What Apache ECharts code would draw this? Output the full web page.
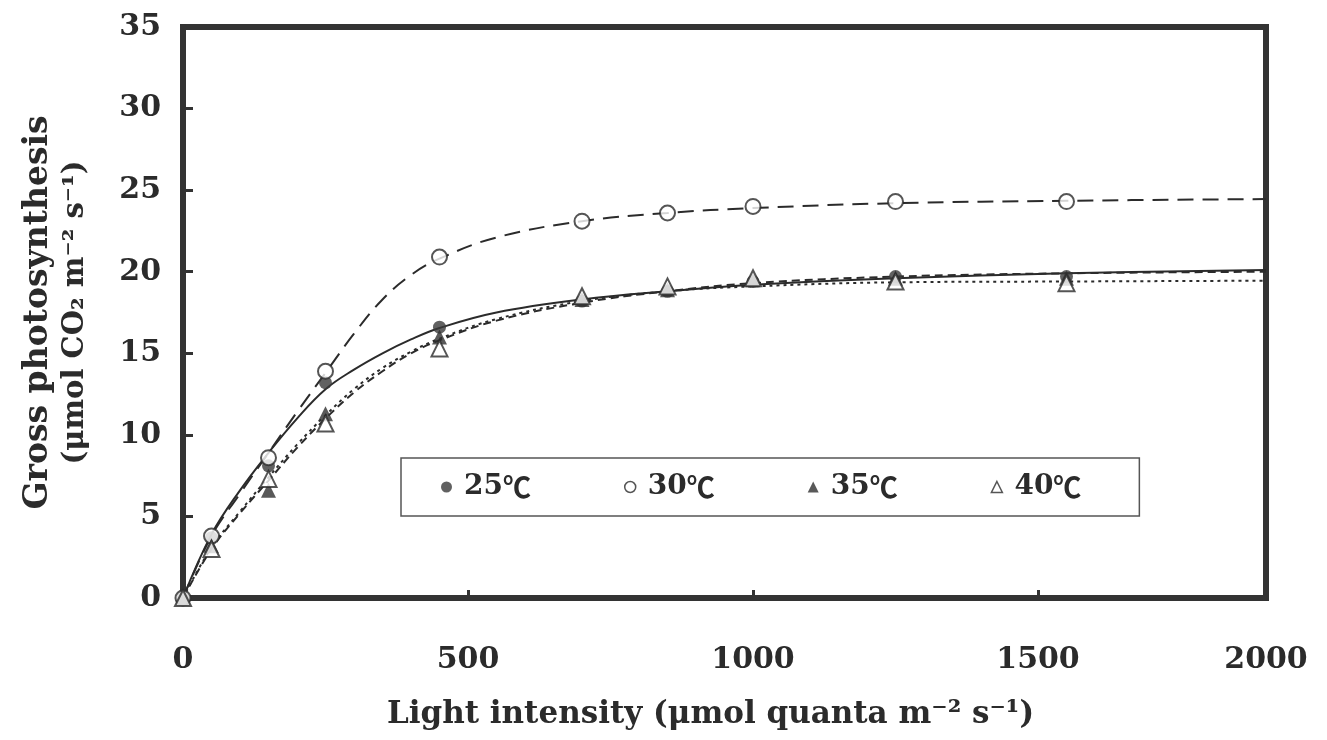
<!DOCTYPE html>
<html>
<head>
<meta charset="utf-8">
<script src="https://cdn.jsdelivr.net/npm/echarts@6/dist/echarts.min.js"></script>
<style>
  html, body { margin: 0; padding: 0; background: #fff; }
  #main { width: 1327px; height: 740px; }
</style>
</head>
<body>
<div id="main"></div>
<script>
// measured points (light intensity vs gross photosynthesis)
var lightX = [0, 50, 150, 250, 450, 700, 850, 1000, 1250, 1550];
var gp25 = [0, 3.7, 8.1, 13.2, 16.6, 18.2, 18.8, 19.4, 19.7, 19.7];
var gp30 = [0, 3.8, 8.6, 13.9, 20.9, 23.1, 23.6, 24.0, 24.3, 24.3];
var gp35 = [0, 3.2, 6.6, 11.3, 16.0, 18.3, 18.9, 19.5, 19.6, 19.6];
var gp40 = [0, 3.0, 7.3, 10.7, 15.3, 18.5, 19.1, 19.6, 19.4, 19.3];

// fitted curves
var fitX = [0, 50, 100, 150, 200, 250, 300, 350, 400, 450, 550, 700, 850, 1000, 1250, 1550, 1900];
var fit25 = [0, 3.9, 6.6, 8.9, 11.0, 12.8, 14.0, 15.0, 15.85, 16.55, 17.5, 18.3, 18.8, 19.2, 19.6, 19.9, 20.1];
var fit30 = [0, 3.8, 6.4, 8.9, 11.4, 13.8, 16.2, 18.3, 19.8, 20.8, 22.1, 23.1, 23.6, 23.9, 24.2, 24.35, 24.45];
var fit35 = [0, 3.0, 5.2, 7.2, 9.2, 11.0, 12.6, 13.9, 15.0, 15.8, 17.0, 18.1, 18.8, 19.3, 19.7, 19.9, 20.0];
var fit40 = [0, 3.1, 5.3, 7.4, 9.4, 11.2, 12.8, 14.1, 15.1, 15.9, 17.1, 18.2, 18.8, 19.1, 19.35, 19.4, 19.45];

var legendNames = ['25℃', '30℃', '35℃', '40℃'];
var xMax = 1900;
var xTickLabels = ['0', '500', '1000', '1500', '2000'];

function pairs(xs, ys) {
    return xs.map(function (x, i) { return [x, ys[i]]; });
}

var ink = '#2b2b2b';
var font = 'DejaVu Serif';

var dom = document.getElementById('main');
var myChart = echarts.init(dom);

var markStyles = [
    { symbol: 'circle', symbolSize: 13, itemStyle: { color: '#3a3a3a' } },
    { symbol: 'circle', symbolSize: 15, itemStyle: { color: '#fff', borderColor: ink, borderWidth: 2 } },
    { symbol: 'triangle', symbolSize: 15, itemStyle: { color: '#2f2f2f' } },
    { symbol: 'triangle', symbolSize: 16, itemStyle: { color: '#fff', borderColor: ink, borderWidth: 2 } }
];
var pointSets = [gp25, gp30, gp35, gp40];
var fitSets = [fit25, fit30, fit35, fit40];
var lineTypes = ['solid', [16, 9], [8, 5], [3, 4]];

var series = [];
fitSets.forEach(function (ys, i) {
    series.push({
        name: legendNames[i] + ' fit',
        type: 'line',
        smooth: 0.4,
        showSymbol: false,
        silent: true,
        z: 2,
        lineStyle: { color: ink, width: 2, type: lineTypes[i] },
        data: pairs(fitX, ys)
    });
});
pointSets.forEach(function (ys, i) {
    series.push({
        name: legendNames[i],
        type: 'scatter',
        symbol: markStyles[i].symbol,
        symbolSize: markStyles[i].symbolSize,
        itemStyle: markStyles[i].itemStyle,
        z: 5,
        data: pairs(lightX, ys)
    });
});

var option = {
    backgroundColor: '#fff',
    animation: false,
    grid: {
        left: 183, right: 61, top: 27, bottom: 142,
        show: true,
        borderColor: '#333',
        borderWidth: 6,
        backgroundColor: 'transparent'
    },
    legend: {
        data: [
            { name: '25℃', icon: 'circle', itemStyle: { color: '#3a3a3a' } },
            { name: '30℃', icon: 'circle', itemStyle: { color: '#fff', borderColor: ink, borderWidth: 1.5 } },
            { name: '35℃', icon: 'triangle', itemStyle: { color: '#2f2f2f' } },
            { name: '40℃', icon: 'triangle', itemStyle: { color: '#fff', borderColor: ink, borderWidth: 1.5 } }
        ],
        left: 401,
        top: 458,
        orient: 'horizontal',
        itemWidth: 11,
        itemHeight: 11,
        itemGap: 93,
        padding: [15, 58, 15, 40],
        borderColor: '#555',
        borderWidth: 1.5,
        formatter: function (name) {
            return '{n|' + name.replace('℃', '') + '}{c|℃}';
        },
        textStyle: {
            color: ink,
            rich: {
                n: { fontFamily: font, fontWeight: 'bold', fontSize: 28, color: ink, padding: [0, 0, 0, 7] },
                c: { fontFamily: 'Noto Sans CJK JP', fontWeight: 'bold', fontSize: 28, color: ink }
            }
        }
    },
    xAxis: {
        type: 'value',
        min: 0,
        max: xMax,
        interval: 500,
        name: 'Light intensity (μmol quanta m⁻² s⁻¹)',
        nameLocation: 'middle',
        nameGap: 101,
        nameTextStyle: { fontFamily: font, fontWeight: 'bold', fontSize: 31, color: ink, padding: [0, 28, 0, 0] },
        axisLine: { show: true, lineStyle: { color: '#333', width: 6 } },
        axisTick: { show: true, inside: true, length: 8, lineStyle: { color: '#333', width: 3 } },
        splitLine: { show: false },
        axisLabel: {
            margin: 47,
            fontFamily: font, fontWeight: 'bold', fontSize: 30, color: ink,
            formatter: function (v) {
                if (v === xMax) return xTickLabels[xTickLabels.length - 1];
                return xTickLabels[Math.round(v / 500)];
            }
        }
    },
    yAxis: {
        type: 'value',
        min: 0,
        max: 35,
        interval: 5,
        name: '{a|Gross photosynthesis}\n{b|(μmol CO₂ m⁻² s⁻¹)}',
        nameLocation: 'middle',
        nameRotate: 90,
        nameGap: 90,
        nameTextStyle: {
            color: ink,
            rich: {
                a: { fontFamily: font, fontWeight: 'bold', fontSize: 33, color: ink, lineHeight: 38 },
                b: { fontFamily: font, fontWeight: 'bold', fontSize: 29, color: ink, lineHeight: 36 }
            }
        },
        axisLine: { show: true, lineStyle: { color: '#333', width: 6 } },
        axisTick: { show: true, inside: true, length: 10, lineStyle: { color: '#333', width: 3 } },
        splitLine: { show: false },
        axisLabel: { margin: 22, fontFamily: font, fontWeight: 'bold', fontSize: 30, color: ink }
    },
    series: series
};

if (option && typeof option === 'object') {
    myChart.setOption(option, true);
}
</script>
</body>
</html>
